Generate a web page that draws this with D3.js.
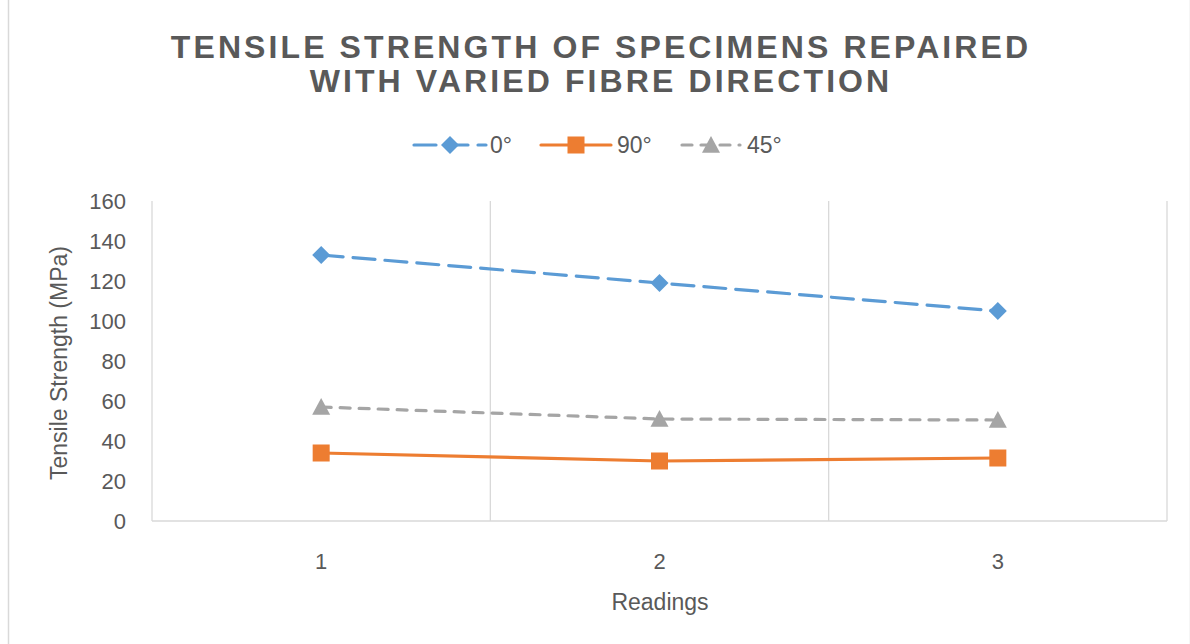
<!DOCTYPE html>
<html>
<head>
<meta charset="utf-8">
<script src="https://cdn.jsdelivr.net/npm/d3@7"></script>
<style>
  html, body { margin: 0; padding: 0; background: #fff; }
  svg { display: block; }
</style>
</head>
<body>
<svg id="chart" width="1190" height="644"></svg>
<script>
// Data
const readings = ["1", "2", "3"];
const seriesNames = ["0°", "90°", "45°"];
const values0 = [133, 119, 105];
const values90 = [34, 30, 31.5];
const values45 = [57, 51, 50.5];
const yTicks = [0, 20, 40, 60, 80, 100, 120, 140, 160];

const titleLines = ["TENSILE STRENGTH OF SPECIMENS REPAIRED", "WITH VARIED FIBRE DIRECTION"];

const series = [
  { name: seriesNames[0], values: values0, color: "#5B9BD5", dash: "22,10", marker: "diamond" },
  { name: seriesNames[1], values: values90, color: "#ED7D31", dash: null, marker: "square" },
  { name: seriesNames[2], values: values45, color: "#A5A5A5", dash: "10,9", marker: "triangle" }
];

const svg = d3.select("#chart");
const W = 1190, H = 644;
const textColor = "#595959";
const font = "'Liberation Sans', Arial, sans-serif";

// Outer chart frame
svg.append("rect")
  .attr("x", 8.5).attr("y", -1).attr("width", W - 8).attr("height", H + 2)
  .attr("fill", "#fff").attr("stroke", "#d9d9d9").attr("stroke-width", 1.5);

const plot = { left: 152, right: 1167, top: 201, bottom: 521 };

const x = d3.scaleBand().domain(readings).range([plot.left, plot.right]).padding(0);
const y = d3.scaleLinear().domain([0, 160]).range([plot.bottom, plot.top]);
const cx = d => x(d) + x.bandwidth() / 2;

// Title
svg.append("g").selectAll("text").data(titleLines).join("text")
  .attr("x", 601).attr("y", (d, i) => 58 + i * 34)
  .attr("text-anchor", "middle")
  .attr("font-family", font).attr("font-weight", "bold")
  .attr("font-size", 32).attr("letter-spacing", 3.1)
  .attr("fill", textColor)
  .text(d => d);

// Vertical gridlines at category boundaries
const bounds = readings.map(r => x(r)).concat([plot.right]);
svg.append("g").selectAll("line").data(bounds).join("line")
  .attr("x1", d => d).attr("x2", d => d)
  .attr("y1", plot.top).attr("y2", plot.bottom)
  .attr("stroke", "#d9d9d9").attr("stroke-width", 1.3);

// X axis line
svg.append("line")
  .attr("x1", plot.left).attr("x2", plot.right)
  .attr("y1", plot.bottom).attr("y2", plot.bottom)
  .attr("stroke", "#d9d9d9").attr("stroke-width", 1.5);

// Y axis tick labels
const yAxis = d3.axisLeft(y).tickValues(yTicks).tickSize(0).tickPadding(0);
const gy = svg.append("g").attr("transform", `translate(${plot.left - 26},0)`).call(yAxis);
gy.select(".domain").remove();
gy.selectAll("text")
  .attr("font-family", font).attr("font-size", 22).attr("fill", textColor)
  .attr("dy", "0.36em");

// X axis tick labels
const xAxis = d3.axisBottom(x).tickSize(0).tickPadding(0);
const gx = svg.append("g").attr("transform", `translate(0,${plot.bottom + 32})`).call(xAxis);
gx.select(".domain").remove();
gx.selectAll("text")
  .attr("font-family", font).attr("font-size", 22).attr("fill", textColor)
  .attr("dy", "0.71em");

// Axis titles
svg.append("text")
  .attr("transform", `translate(67,${(plot.top + plot.bottom) / 2 + 2}) rotate(-90)`)
  .attr("text-anchor", "middle")
  .attr("font-family", font).attr("font-size", 23).attr("fill", textColor)
  .text("Tensile Strength (MPa)");

svg.append("text")
  .attr("x", 660).attr("y", 610)
  .attr("text-anchor", "middle")
  .attr("font-family", font).attr("font-size", 23).attr("fill", textColor)
  .text("Readings");

// Marker drawing
function drawMarker(g, type, px, py, color) {
  if (type === "diamond") {
    const s = 9;
    g.append("path").attr("d", `M${px},${py - s}L${px + s},${py}L${px},${py + s}L${px - s},${py}Z`)
      .attr("fill", color);
  } else if (type === "square") {
    const s = 8.5;
    g.append("rect").attr("x", px - s).attr("y", py - s).attr("width", 2 * s).attr("height", 2 * s)
      .attr("fill", color);
  } else {
    const s = 9;
    g.append("path").attr("d", `M${px},${py - s}L${px + s},${py + s * 0.85}L${px - s},${py + s * 0.85}Z`)
      .attr("fill", color);
  }
}

const line = d3.line().x((d, i) => cx(readings[i])).y(d => y(d));

// Series lines and markers
series.forEach(s => {
  const g = svg.append("g");
  g.append("path").datum(s.values)
    .attr("d", line)
    .attr("fill", "none")
    .attr("stroke", s.color).attr("stroke-width", 3.2)
    .attr("stroke-linecap", "round")
    .attr("stroke-dasharray", s.dash);
  s.values.forEach((v, i) => drawMarker(g, s.marker, cx(readings[i]), y(v), s.color));
});

// Legend
const legendItems = [
  { x0: 414, x1: 486, tx: 490 },
  { x0: 541, x1: 611, tx: 617 },
  { x0: 682, x1: 740, tx: 747 }
];
series.forEach((s, i) => {
  const L = legendItems[i];
  const g = svg.append("g");
  const ly = 145;
  g.append("line")
    .attr("x1", L.x0).attr("x2", L.x1).attr("y1", ly).attr("y2", ly)
    .attr("stroke", s.color).attr("stroke-width", 3.2)
    .attr("stroke-linecap", "round")
    .attr("stroke-dasharray", s.dash);
  drawMarker(g, s.marker, (L.x0 + L.x1) / 2, ly, s.color);
  g.append("text")
    .attr("x", L.tx).attr("y", ly).attr("dy", "0.36em")
    .attr("font-family", font).attr("font-size", 23).attr("fill", textColor)
    .text(s.name);
});
</script>
</body>
</html>
